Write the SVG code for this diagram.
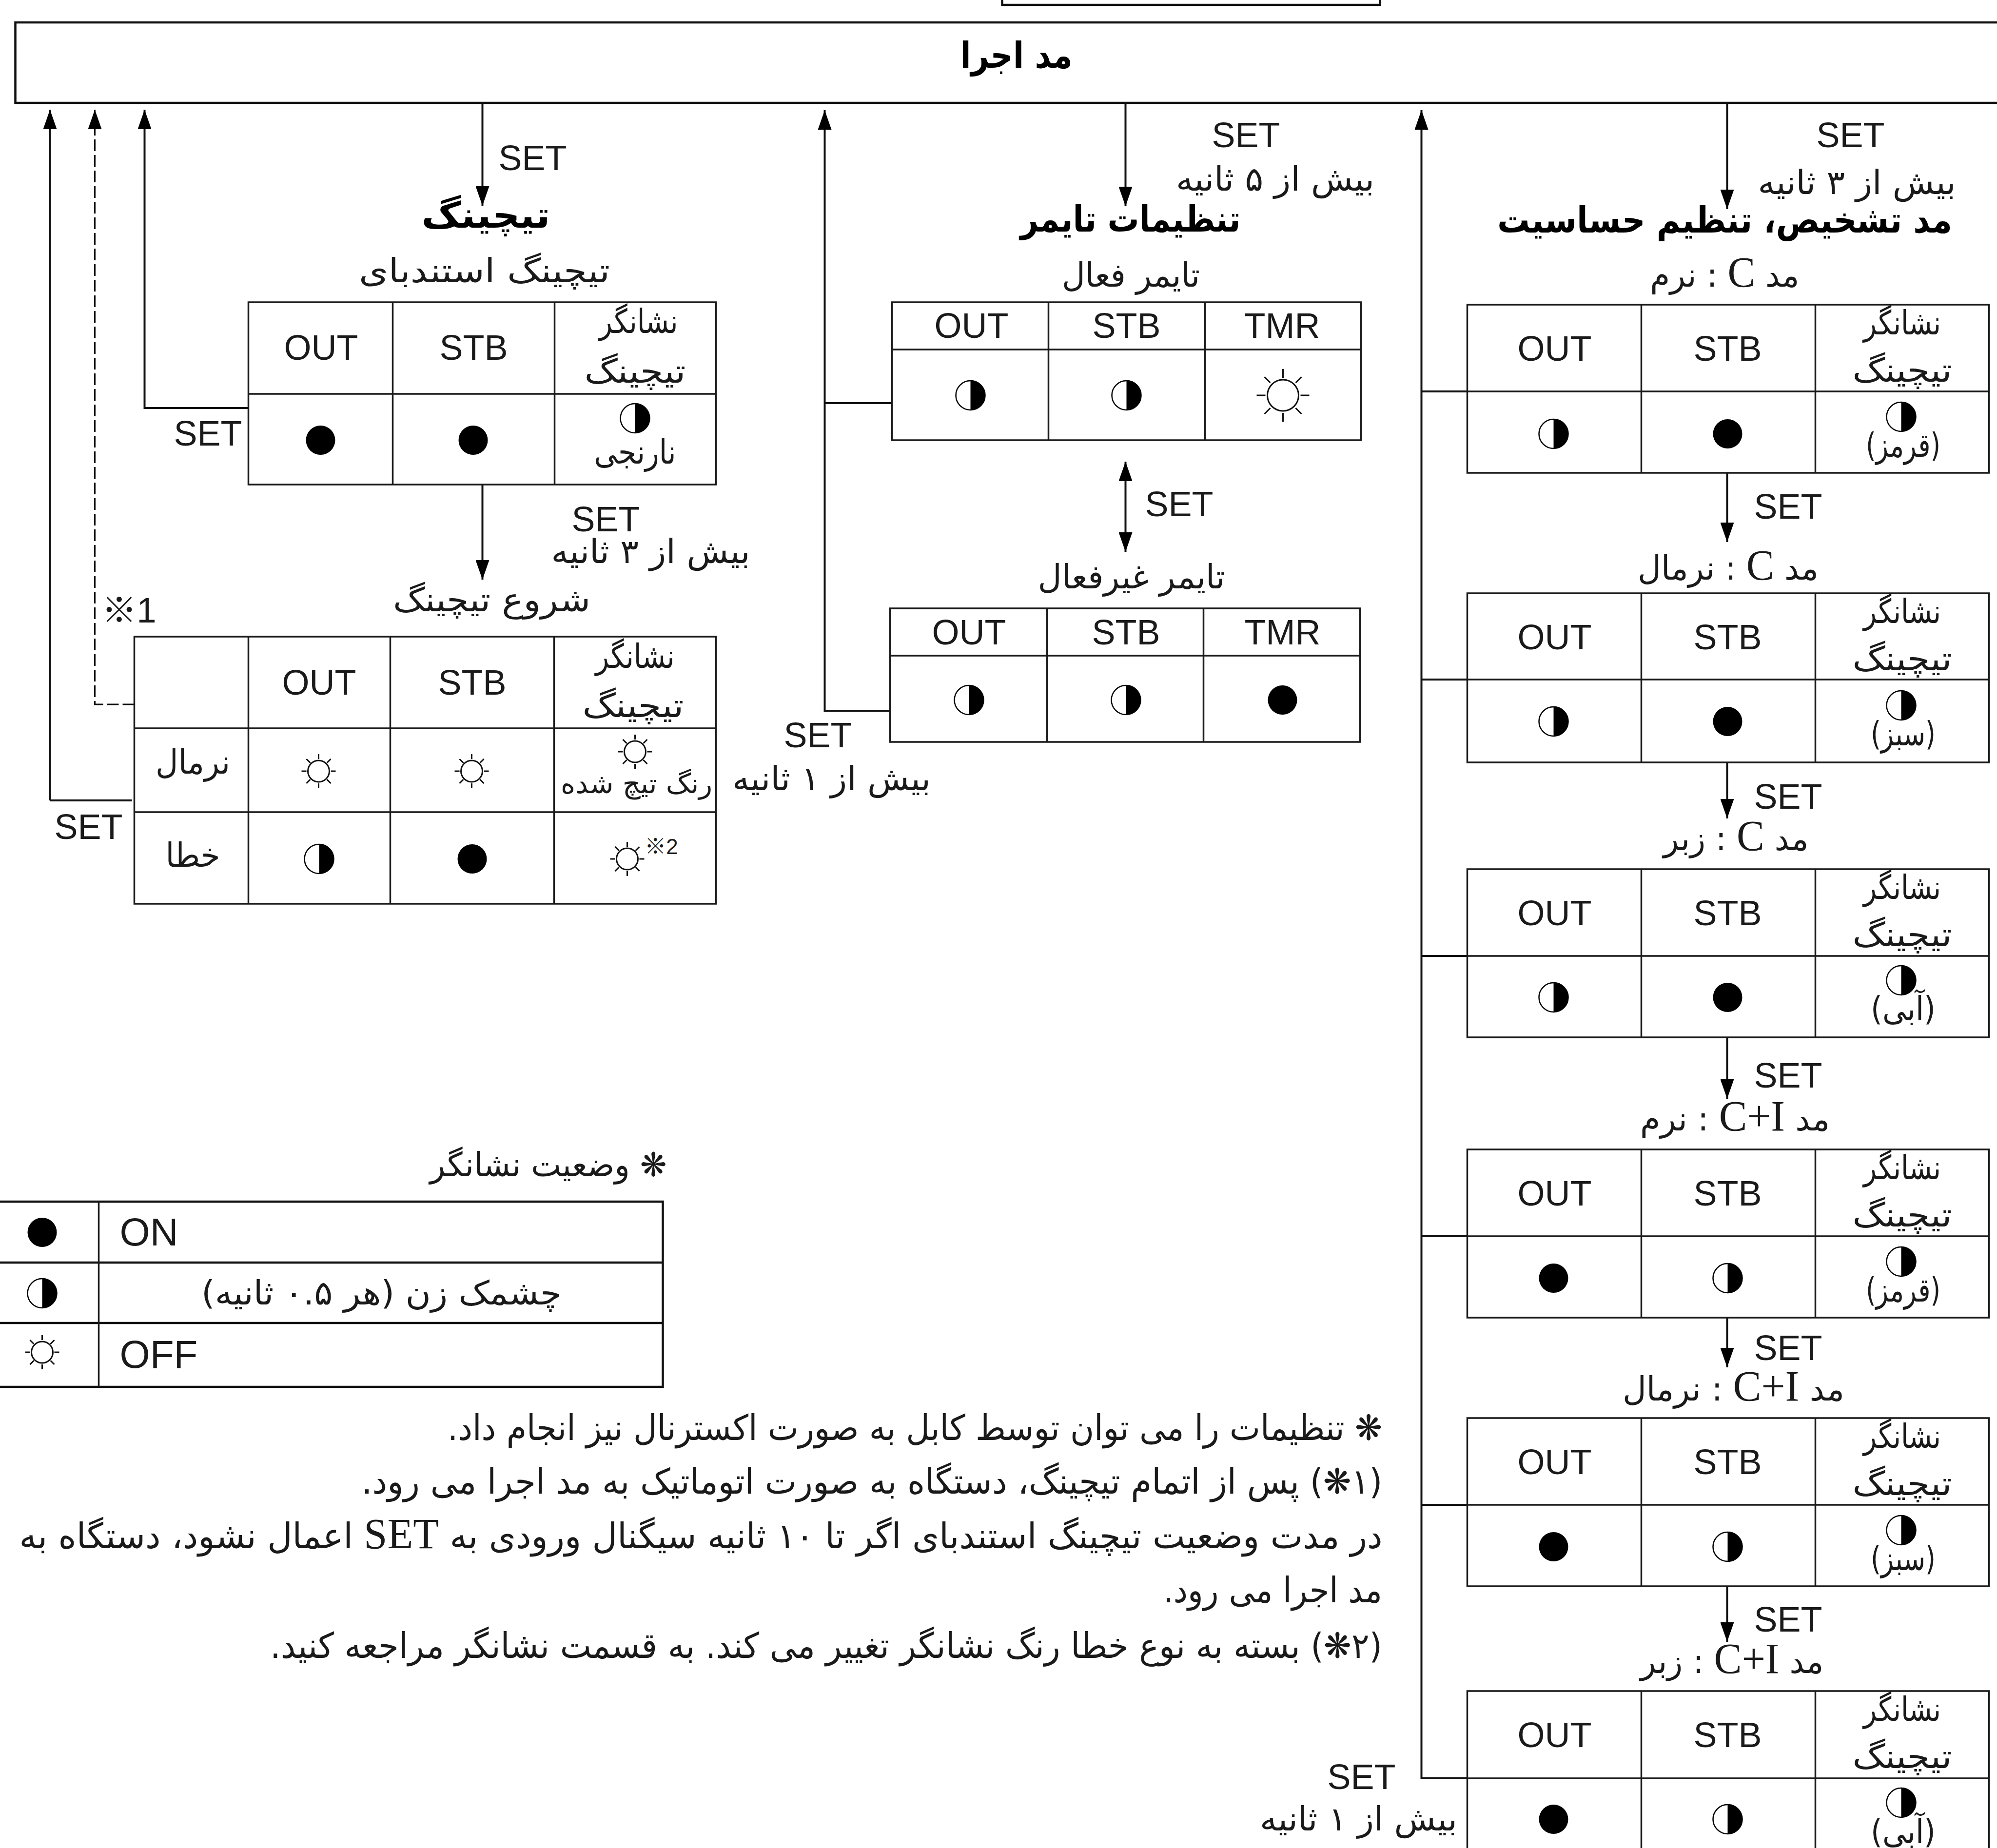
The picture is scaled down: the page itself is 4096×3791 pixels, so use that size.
<svg xmlns="http://www.w3.org/2000/svg" width="4096" height="3791" viewBox="0 0 4096 3791">
<style>
.bg{fill:#fff}
.ln{fill:none;stroke:#1a1a1a;stroke-width:3.5}
.hv{fill:none;stroke:#111;stroke-width:4.5}
.cn{fill:none;stroke:#111;stroke-width:4}
.ds{fill:none;stroke:#111;stroke-width:3;stroke-dasharray:24 8}
.en{font-family:"Liberation Sans",Arial,sans-serif;font-size:72px;fill:#1a1a1a;text-anchor:middle}
.fa{font-family:"DejaVu Sans",sans-serif;font-size:68px;fill:#1a1a1a;text-anchor:middle;direction:rtl}
.nt{font-size:72px}
.b{font-weight:bold;font-size:74px;fill:#000}
.sm{font-size:56px}
.lat{font-family:"Liberation Serif",serif;font-size:88px}
.cjk{font-family:"Liberation Sans","Noto Sans CJK JP",sans-serif;fill:#1a1a1a;text-anchor:middle}
.on{fill:#000}
.hw{fill:#fff;stroke:#000;stroke-width:2.5}
.ic{fill:#fff;stroke:#111;stroke-width:3}
.big{font-size:80px;text-anchor:start}
</style>
<defs>
<marker id="ah" markerUnits="userSpaceOnUse" markerWidth="40" markerHeight="28" refX="40" refY="14" viewBox="0 0 40 28" orient="auto-start-reverse"><path d="M0,0L40,14L0,28Z" fill="#000"/></marker>
<g id="on"><circle r="30" class="on"/></g>
<g id="half"><circle r="30" class="hw"/><path d="M0,-30A30,30 0 0 1 0,30Z" class="on"/></g>
<g id="off"><circle r="22" class="ic"/><path d="M0,-35V-25M0,35V25M-35,0H-25M35,0H25M-25,-25L-17,-17M25,-25L17,-17M-25,25L-17,17M25,25L17,17" class="ic"/></g>
<g id="offb"><circle r="32" class="ic"/><path d="M0,-54V-36M0,54V36M-54,0H-36M54,0H36M-38,-38L-26,-26M38,-38L26,-26M-38,38L-26,26M38,38L26,26" class="ic"/></g>
</defs>
<rect class="bg" width="4096" height="3791"/>
<g transform="translate(2.5,2)">
<g id="connectors">
<path class="cn" marker-end="url(#ah)" d="M100,1640V223"/>
<path class="cn" d="M100,1640H268"/>
<path class="ds" marker-end="url(#ah)" d="M273,1443H192V223"/>
<path class="cn" marker-end="url(#ah)" d="M507,835H294V223"/>
<path class="cn" marker-end="url(#ah)" d="M987,209V420"/>
<path class="cn" marker-end="url(#ah)" d="M987,993V1187"/>
<path class="cn" marker-end="url(#ah)" d="M1824,1456H1689V224"/>
<path class="cn" d="M1689,825H1827"/>
<path class="cn" marker-end="url(#ah)" d="M2306,209V421"/>
<path class="cn" marker-start="url(#ah)" marker-end="url(#ah)" d="M2306,945V1130"/>
<path class="cn" marker-end="url(#ah)" d="M3540,209V427"/>
<path class="cn" marker-end="url(#ah)" d="M3007,3646H2913V224"/>
<path class="cn" d="M2913,801H3007M2913,1392H3007M2913,1959H3007M2913,2534H3007M2913,3085H3007"/>
<path class="cn" marker-end="url(#ah)" d="M3540,968V1110"/>
<path class="cn" marker-end="url(#ah)" d="M3540,1562V1677"/>
<path class="cn" marker-end="url(#ah)" d="M3540,2126V2252"/>
<path class="cn" marker-end="url(#ah)" d="M3540,2701V2803"/>
<path class="cn" marker-end="url(#ah)" d="M3540,3252V3366"/>
</g>

<g id="stub"><rect class="hv" x="2053" y="-20" width="775" height="28"/></g>
<g id="run-mode"><rect class="hv" x="29" y="44" width="4100" height="165"/>
<text class="fa b" x="2082" y="137" textLength="230" lengthAdjust="spacingAndGlyphs">مد اجرا</text></g>

<g id="tuning-labels">
<text class="en" x="1090" y="347">SET</text>
<text class="fa b" x="994" y="465" textLength="264" lengthAdjust="spacingAndGlyphs">تیچینگ</text>
<text class="en" x="424" y="912">SET</text>
<text class="en" x="1240" y="1088">SET</text>
<text class="fa" x="1332" y="1153" textLength="408" lengthAdjust="spacingAndGlyphs">بیش از ۳ ثانیه</text>
<text class="cjk" x="262" y="1275" font-size="72">※1</text>
<text class="en" x="179" y="1719">SET</text>
</g>

<g id="tuning-standby">
<text class="fa" x="991" y="577" textLength="515" lengthAdjust="spacingAndGlyphs">تیچینگ استندبای</text>
<rect class="ln" x="507" y="618" width="959" height="374"/>
<path class="ln" d="M507,806H1466M803,618V992M1135,618V992"/>
<text class="en" x="656" y="736">OUT</text><text class="en" x="969" y="736">STB</text>
<text class="fa" x="1307" y="681" textLength="162" lengthAdjust="spacingAndGlyphs">نشانگر</text>
<text class="fa" x="1300" y="783" textLength="208" lengthAdjust="spacingAndGlyphs">تیچینگ</text>
<use href="#on" x="655" y="901"/><use href="#on" x="968" y="901"/><use href="#half" x="1300" y="856"/>
<text class="fa" x="1300" y="949" textLength="168" lengthAdjust="spacingAndGlyphs">نارنجی</text>
</g>

<g id="tuning-start">
<text class="fa" x="1006" y="1252" textLength="405" lengthAdjust="spacingAndGlyphs">شروع تیچینگ</text>
<rect class="ln" x="273" y="1304" width="1193" height="548"/>
<path class="ln" d="M273,1492H1466M273,1664H1466M507,1304V1852M798,1304V1852M1134,1304V1852"/>
<text class="en" x="652" y="1423">OUT</text><text class="en" x="966" y="1423">STB</text>
<text class="fa" x="1300" y="1368" textLength="162" lengthAdjust="spacingAndGlyphs">نشانگر</text>
<text class="fa" x="1296" y="1469" textLength="208" lengthAdjust="spacingAndGlyphs">تیچینگ</text>
<text class="fa" x="393" y="1585" textLength="153" lengthAdjust="spacingAndGlyphs">نرمال</text>
<use href="#off" x="651" y="1580"/><use href="#off" x="965" y="1580"/><use href="#off" x="1300" y="1540"/>
<text class="fa sm" x="1303" y="1625" textLength="311" lengthAdjust="spacingAndGlyphs">رنگ تیچ شده</text>
<text class="fa" x="393" y="1776" textLength="112" lengthAdjust="spacingAndGlyphs">خطا</text>
<use href="#half" x="652" y="1760"/><use href="#on" x="966" y="1760"/><use href="#off" x="1284" y="1760"/>
<text class="cjk" x="1354" y="1750" font-size="44">※2</text>
</g>

<g id="timer-labels">
<text class="en" x="2553" y="300">SET</text>
<text class="fa" x="2613" y="389" textLength="407" lengthAdjust="spacingAndGlyphs">بیش از ۵ ثانیه</text>
<text class="fa b" x="2316" y="473" textLength="452" lengthAdjust="spacingAndGlyphs">تنظیمات تایمر</text>
<text class="en" x="2416" y="1057">SET</text>
<text class="en" x="1675" y="1531">SET</text>
<text class="fa" x="1703" y="1619" textLength="407" lengthAdjust="spacingAndGlyphs">بیش از ۱ ثانیه</text>
</g>

<g id="timer-on">
<text class="fa" x="2317" y="586" textLength="283" lengthAdjust="spacingAndGlyphs">تایمر فعال</text>
<rect class="ln" x="1827" y="618" width="962" height="283"/>
<path class="ln" d="M1827,715H2789M2148,618V901M2469,618V901"/>
<text class="en" x="1990" y="691">OUT</text><text class="en" x="2308" y="691">STB</text><text class="en" x="2627" y="691">TMR</text>
<use href="#half" x="1988" y="809"/><use href="#half" x="2308" y="809"/><use href="#offb" x="2629" y="809"/>
</g>

<g id="timer-off">
<text class="fa" x="2318" y="1205" textLength="384" lengthAdjust="spacingAndGlyphs">تایمر غیرفعال</text>
<rect class="ln" x="1823" y="1246" width="964" height="274"/>
<path class="ln" d="M1823,1343H2787M2145,1246V1520M2466,1246V1520"/>
<text class="en" x="1985" y="1320">OUT</text><text class="en" x="2307" y="1320">STB</text><text class="en" x="2628" y="1320">TMR</text>
<use href="#half" x="1985" y="1434"/><use href="#half" x="2307" y="1434"/><use href="#on" x="2628" y="1434"/>
</g>

<g id="sens-labels">
<text class="en" x="3793" y="300">SET</text>
<text class="fa" x="3806" y="396" textLength="406" lengthAdjust="spacingAndGlyphs">بیش از ۳ ثانیه</text>
<text class="fa b" x="3535" y="475" textLength="933" lengthAdjust="spacingAndGlyphs">مد تشخیص، تنظیم حساسیت</text>
<text class="en" x="3665" y="1062">SET</text>
<text class="en" x="3665" y="1657">SET</text>
<text class="en" x="3665" y="2229">SET</text>
<text class="en" x="3665" y="2788">SET</text>
<text class="en" x="3665" y="3345">SET</text>
<text class="en" x="2790" y="3668">SET</text>
<text class="fa" x="2784" y="3753" textLength="405" lengthAdjust="spacingAndGlyphs">بیش از ۱ ثانیه</text>
</g>

<g id="mode-c-soft">
<text class="fa" x="3535" y="586" textLength="306" lengthAdjust="spacingAndGlyphs">مد <tspan class="lat">C</tspan> : نرم</text>
<rect class="ln" x="3007" y="623" width="1070" height="345"/>
<path class="ln" d="M3007,801H4077M3364,623V968M3721,623V968"/>
<text class="en" x="3186" y="738">OUT</text><text class="en" x="3541" y="738">STB</text>
<text class="fa" x="3899" y="684" textLength="159" lengthAdjust="spacingAndGlyphs">نشانگر</text>
<text class="fa" x="3899" y="781" textLength="204" lengthAdjust="spacingAndGlyphs">تیچینگ</text>
<use href="#half" x="3184" y="888"/><use href="#on" x="3541" y="888"/><use href="#half" x="3897" y="853"/>
<text class="fa" x="3901" y="935" textLength="153" lengthAdjust="spacingAndGlyphs">(قرمز)</text>
</g>

<g id="mode-c-normal">
<text class="fa" x="3542" y="1187" textLength="371" lengthAdjust="spacingAndGlyphs">مد <tspan class="lat">C</tspan> : نرمال</text>
<rect class="ln" x="3007" y="1215" width="1070" height="347"/>
<path class="ln" d="M3007,1392H4077M3364,1215V1562M3721,1215V1562"/>
<text class="en" x="3186" y="1330">OUT</text><text class="en" x="3541" y="1330">STB</text>
<text class="fa" x="3899" y="1276" textLength="159" lengthAdjust="spacingAndGlyphs">نشانگر</text>
<text class="fa" x="3899" y="1373" textLength="204" lengthAdjust="spacingAndGlyphs">تیچینگ</text>
<use href="#half" x="3184" y="1478"/><use href="#on" x="3541" y="1478"/><use href="#half" x="3897" y="1445"/>
<text class="fa" x="3901" y="1527" textLength="133" lengthAdjust="spacingAndGlyphs">(سبز)</text>
</g>

<g id="mode-c-under">
<text class="fa" x="3558" y="1742" textLength="298" lengthAdjust="spacingAndGlyphs">مد <tspan class="lat">C</tspan> : زبر</text>
<rect class="ln" x="3007" y="1781" width="1070" height="345"/>
<path class="ln" d="M3007,1959H4077M3364,1781V2126M3721,1781V2126"/>
<text class="en" x="3186" y="1896">OUT</text><text class="en" x="3541" y="1896">STB</text>
<text class="fa" x="3899" y="1842" textLength="159" lengthAdjust="spacingAndGlyphs">نشانگر</text>
<text class="fa" x="3899" y="1939" textLength="204" lengthAdjust="spacingAndGlyphs">تیچینگ</text>
<use href="#half" x="3184" y="2044"/><use href="#on" x="3541" y="2044"/><use href="#half" x="3897" y="2009"/>
<text class="fa" x="3901" y="2091" textLength="133" lengthAdjust="spacingAndGlyphs">(آبی)</text>
</g>

<g id="mode-ci-soft">
<text class="fa" x="3556" y="2317" textLength="389" lengthAdjust="spacingAndGlyphs">مد <tspan class="lat">C+I</tspan> : نرم</text>
<rect class="ln" x="3007" y="2356" width="1070" height="345"/>
<path class="ln" d="M3007,2534H4077M3364,2356V2701M3721,2356V2701"/>
<text class="en" x="3186" y="2471">OUT</text><text class="en" x="3541" y="2471">STB</text>
<text class="fa" x="3899" y="2417" textLength="159" lengthAdjust="spacingAndGlyphs">نشانگر</text>
<text class="fa" x="3899" y="2514" textLength="204" lengthAdjust="spacingAndGlyphs">تیچینگ</text>
<use href="#on" x="3184" y="2620"/><use href="#half" x="3541" y="2620"/><use href="#half" x="3897" y="2586"/>
<text class="fa" x="3901" y="2668" textLength="153" lengthAdjust="spacingAndGlyphs">(قرمز)</text>
</g>

<g id="mode-ci-normal">
<text class="fa" x="3553" y="2871" textLength="455" lengthAdjust="spacingAndGlyphs">مد <tspan class="lat">C+I</tspan> : نرمال</text>
<rect class="ln" x="3007" y="2907" width="1070" height="345"/>
<path class="ln" d="M3007,3085H4077M3364,2907V3252M3721,2907V3252"/>
<text class="en" x="3186" y="3022">OUT</text><text class="en" x="3541" y="3022">STB</text>
<text class="fa" x="3899" y="2968" textLength="159" lengthAdjust="spacingAndGlyphs">نشانگر</text>
<text class="fa" x="3899" y="3065" textLength="204" lengthAdjust="spacingAndGlyphs">تیچینگ</text>
<use href="#on" x="3184" y="3171"/><use href="#half" x="3541" y="3171"/><use href="#half" x="3897" y="3137"/>
<text class="fa" x="3901" y="3219" textLength="133" lengthAdjust="spacingAndGlyphs">(سبز)</text>
</g>

<g id="mode-ci-under">
<text class="fa" x="3550" y="3430" textLength="376" lengthAdjust="spacingAndGlyphs">مد <tspan class="lat">C+I</tspan> : زبر</text>
<path class="ln" d="M3007,3800V3467H4077V3800M3007,3646H4077M3364,3467V3800M3721,3467V3800"/>
<text class="en" x="3186" y="3582">OUT</text><text class="en" x="3541" y="3582">STB</text>
<text class="fa" x="3899" y="3528" textLength="159" lengthAdjust="spacingAndGlyphs">نشانگر</text>
<text class="fa" x="3899" y="3625" textLength="204" lengthAdjust="spacingAndGlyphs">تیچینگ</text>
<use href="#on" x="3184" y="3730"/><use href="#half" x="3541" y="3730"/><use href="#half" x="3897" y="3696"/>
<text class="fa" x="3901" y="3779" textLength="133" lengthAdjust="spacingAndGlyphs">(آبی)</text>
</g>

<g id="legend">
<text class="fa" x="1122" y="2411" textLength="486" lengthAdjust="spacingAndGlyphs">❋ وضعیت نشانگر</text>
<path class="hv" d="M-10,2463H1357V2843H-10M-10,2588H1357M-10,2712H1357"/>
<path class="ln" d="M200,2463V2843"/>
<use href="#on" x="84" y="2526"/><use href="#half" x="84" y="2651"/><use href="#off" x="84" y="2772"/>
<text class="en big" x="243" y="2553">ON</text>
<text class="fa" x="780" y="2674" textLength="739" lengthAdjust="spacingAndGlyphs">چشمک زن (هر ۰.۵ ثانیه)</text>
<text class="en big" x="243" y="2804">OFF</text>
</g>

<g id="notes">
<text class="fa nt" x="1874" y="2952" textLength="1917" lengthAdjust="spacingAndGlyphs">❋ تنظیمات را می توان توسط کابل به صورت اکسترنال نیز انجام داد.</text>
<text class="fa nt" x="1786" y="3062" textLength="2094" lengthAdjust="spacingAndGlyphs">(۱❋) پس از اتمام تیچینگ، دستگاه به صورت اتوماتیک به مد اجرا می رود.</text>
<text class="fa nt" x="1435" y="3174" textLength="2796" lengthAdjust="spacingAndGlyphs">در مدت وضعیت تیچینگ استندبای اگر تا ۱۰ ثانیه سیگنال ورودی به <tspan class="lat">SET</tspan> اعمال نشود، دستگاه به</text>
<text class="fa nt" x="2608" y="3285" textLength="449" lengthAdjust="spacingAndGlyphs">مد اجرا می رود.</text>
<text class="fa nt" x="1692" y="3399" textLength="2281" lengthAdjust="spacingAndGlyphs">(۲❋) بسته به نوع خطا رنگ نشانگر تغییر می کند. به قسمت نشانگر مراجعه کنید.</text>
</g>
</g>
</svg>
